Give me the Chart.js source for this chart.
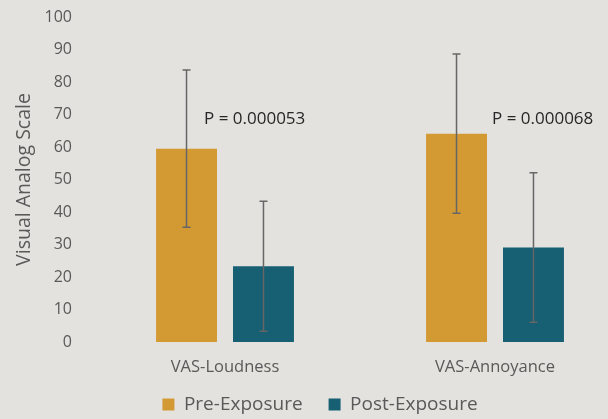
<!DOCTYPE html>
<html>
<head>
<meta charset="utf-8">
<script src="https://cdn.jsdelivr.net/npm/chart.js@4.4.1/dist/chart.umd.min.js"></script>
<style>
html,body{margin:0;padding:0;overflow:hidden;background:#e3e2df}
#wrap{width:630px;height:419px;position:relative}
</style>
</head>
<body>
<div id="wrap"><canvas id="c"></canvas></div>
<script>
// 資料
const categories=['VAS-Loudness','VAS-Annoyance'];
const preMean=[59.5,64.1];
const preSD=[24.2,24.5];
const postMean=[23.3,29.1];
const postSD=[20.0,23.0];
const pLabels=['P = 0.000053','P = 0.000068'];
const pLabelY=[68.6,68.6];
const yTicks=[0,10,20,30,40,50,60,70,80,90,100];

const txt='#595959';
const font='"Open Sans", sans-serif';

// 誤差線
const errorBars={
  id:'errorBars',
  afterDatasetsDraw(chart){
    const {ctx,scales:{y}}=chart;
    ctx.save();
    ctx.strokeStyle='#666';ctx.lineWidth=1.5;
    chart.data.datasets.forEach((ds,di)=>{
      const meta=chart.getDatasetMeta(di);
      meta.data.forEach((bar,i)=>{
        const v=ds.data[i],sd=ds.sd[i];
        const t=y.getPixelForValue(v+sd),b=y.getPixelForValue(v-sd);
        ctx.beginPath();
        ctx.moveTo(bar.x,t);ctx.lineTo(bar.x,b);
        ctx.moveTo(bar.x-4,t);ctx.lineTo(bar.x+4,t);
        ctx.moveTo(bar.x-4,b);ctx.lineTo(bar.x+4,b);
        ctx.stroke();
      });
    });
    ctx.restore();
  }
};

// P 值標註
const pValues={
  id:'pValues',
  afterDraw(chart,args,opts){
    const {ctx,scales:{x,y}}=chart;
    ctx.save();
    ctx.font='17px '+font;ctx.fillStyle='#262626';
    ctx.textAlign='left';ctx.textBaseline='middle';
    pLabels.forEach((t,i)=>{
      ctx.fillText(t,x.getPixelForValue(i)+opts.dx[i],y.getPixelForValue(pLabelY[i]));
    });
    ctx.restore();
  }
};

new Chart(document.getElementById('c'),{
  type:'bar',
  data:{
    labels:categories,
    datasets:[
      {label:'Pre-Exposure',data:preMean,sd:preSD,backgroundColor:'#d39a33'},
      {label:'Post-Exposure',data:postMean,sd:postSD,backgroundColor:'#175f72'}
    ]
  },
  options:{
    responsive:true,maintainAspectRatio:false,animation:false,
    categoryPercentage:0.57,barPercentage:0.792,
    layout:{padding:{left:10,right:0,top:17,bottom:-5}},
    plugins:{
      legend:{
        position:'bottom',
        // 空標題用負 padding 讓圖例貼近 x 軸標籤
        title:{display:true,text:'',font:{size:1},padding:{top:-12,bottom:-12}},
        labels:{font:{family:font,size:19},color:txt,boxWidth:12,boxHeight:12,padding:26}
      },
      tooltip:{enabled:false},
      pValues:{dx:[-21,-3]}
    },
    scales:{
      x:{
        grid:{display:false,drawTicks:false},border:{display:false},
        ticks:{font:{family:font,size:16.5},color:txt,padding:15}
      },
      y:{
        min:0,max:100,
        afterBuildTicks:s=>{s.ticks=yTicks.map(v=>({value:v}));},
        afterFit:s=>{s.width=80;s.paddingTop=0;s.paddingBottom=0;},
        grid:{display:false,drawTicks:false},border:{display:false},
        ticks:{font:{family:font,size:16},color:txt,padding:18},
        title:{display:true,text:'Visual Analog Scale',font:{family:font,size:19.5},color:txt,padding:3}
      }
    }
  },
  plugins:[errorBars,pValues]
});
</script>
</body>
</html>
